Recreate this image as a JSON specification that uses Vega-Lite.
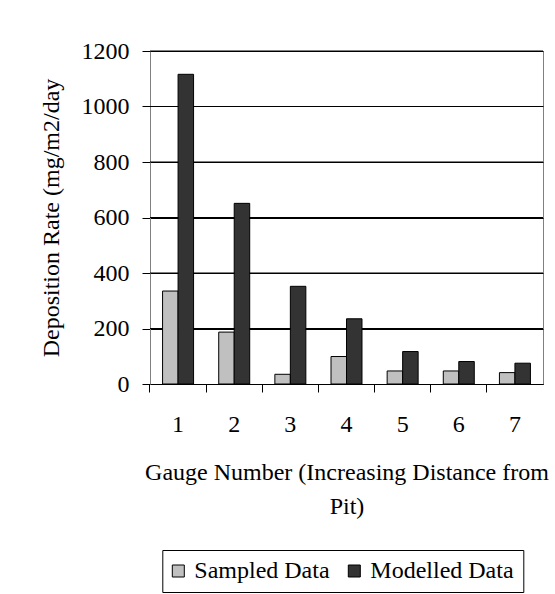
{
  "$schema": "https://vega.github.io/schema/vega-lite/v6.json",
  "width": 393,
  "height": 333,
  "autosize": {"type": "none"},
  "padding": {"left": 150, "top": 51, "right": 12, "bottom": 210},
  "background": "white",
  "config": {
    "font": "Liberation Serif",
    "view": {"stroke": "#808080", "strokeWidth": 1},
    "axis": {
      "labelFont": "Liberation Serif",
      "titleFont": "Liberation Serif",
      "labelColor": "black",
      "titleColor": "black",
      "titleFontWeight": "normal",
      "labelFontSize": 24,
      "titleFontSize": 24
    }
  },
  "datasets": {
    "bars": [
      {"gauge": "1", "series": "Sampled Data", "value": 335},
      {"gauge": "1", "series": "Modelled Data", "value": 1116},
      {"gauge": "2", "series": "Sampled Data", "value": 187},
      {"gauge": "2", "series": "Modelled Data", "value": 651},
      {"gauge": "3", "series": "Sampled Data", "value": 35},
      {"gauge": "3", "series": "Modelled Data", "value": 352},
      {"gauge": "4", "series": "Sampled Data", "value": 99},
      {"gauge": "4", "series": "Modelled Data", "value": 235},
      {"gauge": "5", "series": "Sampled Data", "value": 47},
      {"gauge": "5", "series": "Modelled Data", "value": 117},
      {"gauge": "6", "series": "Sampled Data", "value": 47},
      {"gauge": "6", "series": "Modelled Data", "value": 81},
      {"gauge": "7", "series": "Sampled Data", "value": 41},
      {"gauge": "7", "series": "Modelled Data", "value": 75}
    ],
    "gridlines": [
      {"value": 200},
      {"value": 400},
      {"value": 600},
      {"value": 800},
      {"value": 1000},
      {"value": 1200}
    ]
  },
  "layer": [
    {
      "data": {"name": "gridlines"},
      "mark": {"type": "tick", "orient": "horizontal", "size": 393, "thickness": 1, "color": "black", "filled": true, "opacity": 1},
      "encoding": {
        "y": {
          "field": "value",
          "type": "quantitative",
          "title": "Deposition Rate (mg/m2/day"
        }
      }
    },
    {
      "data": {"name": "bars"},
      "mark": {"type": "bar", "stroke": "black", "strokeWidth": 1},
      "encoding": {
        "x": {
          "field": "gauge",
          "type": "ordinal",
          "scale": {"paddingInner": 0.448, "paddingOuter": 0.224},
          "axis": {
            "title": ["Gauge Number (Increasing Distance from", "Pit)"],
            "labelAngle": 0,
            "ticks": true,
            "tickSize": 8,
            "tickColor": "black",
            "bandPosition": -0.406,
            "domain": true,
            "domainColor": "black",
            "labelPadding": 20,
            "grid": false,
            "titleX": 196.5,
            "titleY": 95,
            "titleBaseline": "alphabetic",
            "titleAlign": "center",
            "titleLineHeight": 34
          }
        },
        "xOffset": {
          "field": "series",
          "type": "nominal",
          "sort": ["Sampled Data", "Modelled Data"],
          "scale": {"paddingInner": 0, "paddingOuter": 0}
        },
        "y": {
          "field": "value",
          "type": "quantitative",
          "title": "Deposition Rate (mg/m2/day",
          "scale": {"domain": [0, 1200]},
          "axis": {
            "values": [0, 200, 400, 600, 800, 1000, 1200],
            "format": "d",
            "tickSize": 8,
            "tickColor": "black",
            "labelPadding": 13,
            "domainColor": "#808080",
            "grid": true,
            "gridColor": "black",
            "gridOpacity": 1,
            "titleX": -92,
            "titleY": 166.5,
            "titleAngle": 270,
            "titleBaseline": "alphabetic",
            "titleAlign": "center"
          }
        },
        "color": {
          "field": "series",
          "type": "nominal",
          "scale": {"domain": ["Sampled Data", "Modelled Data"], "range": ["#c0c0c0", "#333333"]},
          "legend": {
            "title": null,
            "orient": "none",
            "legendX": 12.3,
            "legendY": 499,
            "direction": "horizontal",
            "symbolType": "square",
            "symbolSize": 144,
            "symbolStrokeColor": "black",
            "symbolStrokeWidth": 1,
            "symbolOffset": -5,
            "labelFontSize": 24,
            "labelFont": "Liberation Serif",
            "labelColor": "black",
            "labelOffset": 4,
            "columnPadding": 16,
            "padding": 9,
            "strokeColor": "black",
            "fillColor": "white",
            "labelLimit": 0
          }
        }
      }
    }
  ]
}
